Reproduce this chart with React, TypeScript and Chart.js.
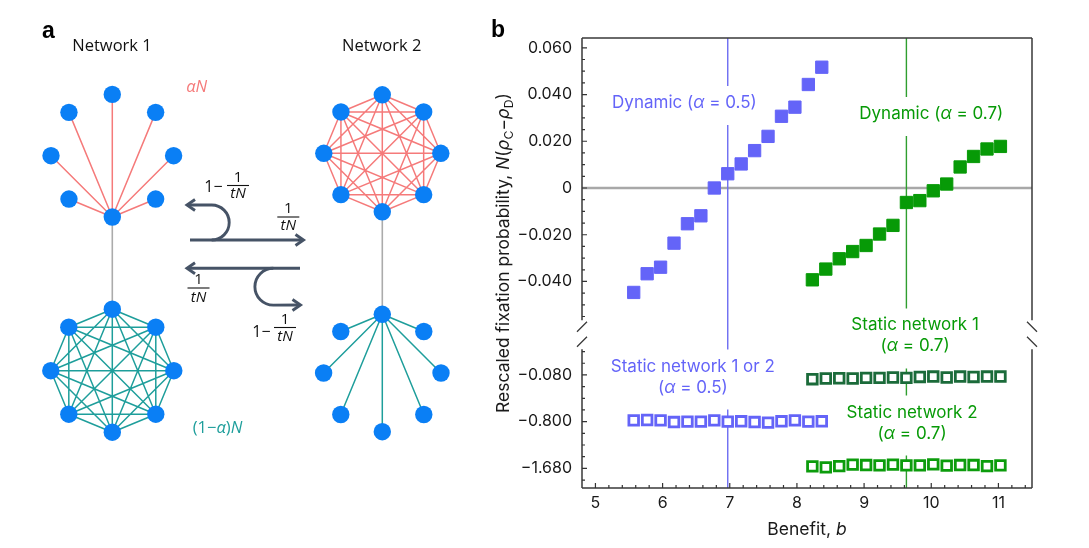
import React, { useEffect, useRef } from 'react';
import { Chart, registerables } from 'chart.js';
Chart.register(...registerables);

// ---------------- Panel b data ----------------
const B_ALPHA05 = [5.57, 5.77, 5.97, 6.17, 6.37, 6.57, 6.77, 6.97, 7.17, 7.37, 7.57, 7.77, 7.97, 8.17, 8.37];
const B_ALPHA07 = [8.23, 8.43, 8.63, 8.83, 9.03, 9.23, 9.43, 9.63, 9.83, 10.03, 10.23, 10.43, 10.63, 10.83, 11.03];
const DYN_05 = [-0.0447, -0.0367, -0.0339, -0.0236, -0.0153, -0.0119, 0.0, 0.0061, 0.0103, 0.016, 0.0221, 0.0307, 0.0346, 0.0443, 0.0517];
const DYN_07 = [-0.0393, -0.0347, -0.0303, -0.0272, -0.0246, -0.0197, -0.016, -0.0062, -0.0054, -0.0012, 0.0017, 0.009, 0.0135, 0.0167, 0.0178];
const STATIC_05 = [-0.78, -0.775, -0.78, -0.808, -0.8, -0.8, -0.78, -0.8, -0.795, -0.808, -0.819, -0.795, -0.78, -0.8, -0.795];
const STATIC1_07 = [-0.146, -0.135, -0.131, -0.135, -0.126, -0.126, -0.12, -0.126, -0.111, -0.105, -0.12, -0.105, -0.111, -0.105, -0.105];
const STATIC2_07 = [-1.642, -1.661, -1.637, -1.61, -1.618, -1.623, -1.61, -1.623, -1.623, -1.604, -1.629, -1.618, -1.618, -1.637, -1.623];
const B_CRIT = [6.97, 9.63];
const X_TICKS = [5, 6, 7, 8, 9, 10, 11];
const Y_TICK_VALUES = [0.06, 0.04, 0.02, 0, -0.02, -0.04, -0.08, -0.8, -1.68];
const Y_TICK_LABELS = ['0.060', '0.040', '0.020', '0', '−0.020', '−0.040', '−0.080', '−0.800', '−1.680'];

// broken axis: upper part linear (0.02 per step), lower part uses the labelled knots
const UPPER_STEP = 0.02;
const LOWER_KNOTS = [-0.08, -0.8, -1.68];
const LOWER_POS = [-4, -5, -6];
function toAxis(v: number): number {
  if (v > -0.06) return v / UPPER_STEP;
  let i = 0;
  if (v < LOWER_KNOTS[1]) i = 1;
  const t = (v - LOWER_KNOTS[i]) / (LOWER_KNOTS[i + 1] - LOWER_KNOTS[i]);
  return LOWER_POS[i] + t * (LOWER_POS[i + 1] - LOWER_POS[i]);
}

// colours
const BLUE = '#6464f8';
const GREEN = '#079a07';
const DARK_GREEN = '#1b6b3a';
const GREEN2 = '#0c9c0c';
const CRIT_COLORS = ['#6d6df2', '#2f9e2f'];
const FONT_B = 'Inter, "Noto Sans", sans-serif';
const FONT_A = '"Open Sans", "Noto Sans", sans-serif';

const ANNOTATIONS = [
  { lines: ['Dynamic (α = 0.5)'], b: 6.325, pos: 1.82, color: BLUE, crit: 0 },
  { lines: ['Dynamic (α = 0.7)'], b: 10.0, pos: 1.585, color: GREEN, crit: 1 },
  { lines: ['Static network 1', '(α = 0.7)'], b: 9.76, pos: -2.94, color: GREEN, crit: 1 },
  { lines: ['Static network 1 or 2', '(α = 0.5)'], b: 6.45, pos: -3.82, color: BLUE, crit: 0 },
  { lines: ['Static network 2', '(α = 0.7)'], b: 9.715, pos: -4.805, color: GREEN, crit: 1 },
];

type Seg = { t: string; it?: boolean; sub?: boolean };

function alphaSegs(s: string): Seg[] {
  const out: Seg[] = [];
  s.split(/(α)/).forEach((p) => {
    if (!p) return;
    out.push({ t: p, it: p === 'α' });
  });
  return out;
}

function drawRich(ctx: CanvasRenderingContext2D, segs: Seg[], x: number, y: number, size: number, family: string, color: string, align: 'center' | 'left' = 'center') {
  const fontOf = (s: Seg) => `${s.it ? 'italic ' : ''}${s.sub ? size * 0.7 : size}px ${family}`;
  let w = 0;
  segs.forEach((s) => { ctx.font = fontOf(s); w += ctx.measureText(s.t).width; });
  let cx = align === 'center' ? x - w / 2 : x;
  ctx.fillStyle = color;
  ctx.textBaseline = 'middle';
  ctx.textAlign = 'left';
  segs.forEach((s) => {
    ctx.font = fontOf(s);
    ctx.fillText(s.t, cx, y + (s.sub ? size * 0.32 : 0));
    cx += ctx.measureText(s.t).width;
  });
}

const LINE_H = 21;
const GAP_ABOVE = 17;
const GAP_BELOW = 22;
const BREAK_TOP = -2.83;
const BREAK_BOTTOM = -3.45;
const BREAK_MARKS = [-2.97, -3.29];

const panelBPlugin = {
  id: 'panelB',
  beforeDatasetsDraw(chart: any) {
    const { ctx, chartArea: ca, scales } = chart;
    const x = scales.x, y = scales.y;
    ctx.save();
    const y0 = y.getPixelForValue(toAxis(0));
    ctx.strokeStyle = '#a8a8a8';
    ctx.lineWidth = 2.5;
    ctx.beginPath(); ctx.moveTo(ca.left, y0); ctx.lineTo(ca.right, y0); ctx.stroke();
    B_CRIT.forEach((b, i) => {
      const px = x.getPixelForValue(b);
      const gaps = ANNOTATIONS.filter((a) => a.crit === i).map((a) => {
        const top = y.getPixelForValue(a.pos);
        return [top - GAP_ABOVE, top + (a.lines.length - 1) * LINE_H + GAP_BELOW];
      }).sort((p, q) => p[0] - q[0]);
      ctx.strokeStyle = CRIT_COLORS[i];
      ctx.lineWidth = 1.4;
      ctx.beginPath();
      let cur = ca.top;
      gaps.forEach(([g0, g1]) => { ctx.moveTo(px, cur); ctx.lineTo(px, g0); cur = g1; });
      ctx.moveTo(px, cur); ctx.lineTo(px, ca.bottom);
      ctx.stroke();
    });
    ctx.restore();
  },
  afterDatasetsDraw(chart: any) {
    const { ctx, chartArea: ca, scales } = chart;
    const x = scales.x, y = scales.y;
    ctx.save();
    const bt = y.getPixelForValue(BREAK_TOP), bb = y.getPixelForValue(BREAK_BOTTOM);
    // frame
    ctx.strokeStyle = '#3a3a3a';
    ctx.lineWidth = 1.5;
    ctx.beginPath();
    ctx.moveTo(ca.left, ca.top); ctx.lineTo(ca.right, ca.top);
    ctx.moveTo(ca.left, ca.bottom); ctx.lineTo(ca.right, ca.bottom);
    [ca.left, ca.right].forEach((px) => {
      ctx.moveTo(px, ca.top); ctx.lineTo(px, bt);
      ctx.moveTo(px, bb); ctx.lineTo(px, ca.bottom);
    });
    ctx.stroke();
    // break marks
    ctx.lineWidth = 1.3;
    ctx.beginPath();
    BREAK_MARKS.forEach((p) => {
      const py = y.getPixelForValue(p);
      ctx.moveTo(ca.left - 5, py + 5); ctx.lineTo(ca.left + 5, py - 5);
      ctx.moveTo(ca.right - 5, py - 5); ctx.lineTo(ca.right + 5, py + 5);
    });
    ctx.stroke();
    // ticks (inward)
    ctx.lineWidth = 1.2;
    ctx.strokeStyle = '#333';
    ctx.beginPath();
    const majorY = Y_TICK_VALUES.map(toAxis);
    majorY.forEach((p) => { const py = y.getPixelForValue(p); ctx.moveTo(ca.left, py); ctx.lineTo(ca.left + 5, py); });
    for (let k = -26; k <= 13; k++) {
      const p = k * 0.25;
      if (p >= y.max || p <= y.min) continue;
      if (p > BREAK_BOTTOM && p < BREAK_TOP) continue;
      if (majorY.some((m) => Math.abs(m - p) < 1e-6)) continue;
      const py = y.getPixelForValue(p);
      ctx.moveTo(ca.left, py); ctx.lineTo(ca.left + 3, py);
    }
    X_TICKS.forEach((v) => { const px = x.getPixelForValue(v); ctx.moveTo(px, ca.bottom); ctx.lineTo(px, ca.bottom - 5); });
    for (let k = 25; k <= 57; k++) {
      const v = k * 0.2;
      if (v <= x.min + 1e-6 || v >= x.max) continue;
      if (X_TICKS.some((m) => Math.abs(m - v) < 1e-6)) continue;
      const px = x.getPixelForValue(v);
      ctx.moveTo(px, ca.bottom); ctx.lineTo(px, ca.bottom - 3);
    }
    ctx.stroke();
    // annotations
    ANNOTATIONS.forEach((a) => {
      const px = x.getPixelForValue(a.b);
      const py = y.getPixelForValue(a.pos);
      a.lines.forEach((ln, i) => drawRich(ctx, alphaSegs(ln), px, py + i * LINE_H, 17, FONT_B, a.color));
    });
    ctx.restore();
  },
  afterDraw(chart: any) {
    const { ctx, chartArea: ca } = chart;
    ctx.save();
    // panel letter
    ctx.fillStyle = '#000';
    ctx.font = `bold 23px "Liberation Sans", Arial, sans-serif`;
    ctx.textAlign = 'left';
    ctx.textBaseline = 'alphabetic';
    ctx.fillText('b', 11, 37);
    // x title
    drawRich(ctx, [{ t: 'Benefit, ' }, { t: 'b', it: true }], (ca.left + ca.right) / 2, 530, 17.5, FONT_B, '#1a1a1a');
    // y title
    ctx.translate(24, 253);
    ctx.rotate(-Math.PI / 2);
    drawRich(ctx, [
      { t: 'Rescaled fixation probability, ' }, { t: 'N', it: true }, { t: '(' },
      { t: 'ρ', it: true }, { t: 'C', sub: true }, { t: '−' },
      { t: 'ρ', it: true }, { t: 'D', sub: true }, { t: ')' },
    ], 0, 0, 17.5, FONT_B, '#1a1a1a');
    ctx.restore();
  },
};

function squares(label: string, xs: number[], ys: number[], color: string, filled: boolean, order: number) {
  return {
    label,
    data: xs.map((b, i) => ({ x: b, y: toAxis(ys[i]) })),
    pointStyle: 'rect',
    pointRadius: filled ? 8.7 : 6.8,
    pointHoverRadius: filled ? 8.7 : 6.8,
    pointBackgroundColor: filled ? color : '#ffffff',
    pointBorderColor: color,
    pointBorderWidth: filled ? 1 : 2.8,
    showLine: false,
    order,
  };
}

// ---------------- Panel a layout ----------------
const NET_N1_TOP = { cx: 112.3, cy: 155.7, r: 61.3 };
const NET_N1_BOT = { cx: 112.3, cy: 370.7, r: 61.5 };
const NET_N2_TOP = { cx: 382.3, cy: 153.3, r: 58.5 };
const NET_N2_BOT = { cx: 382.3, cy: 373.0, r: 58.7 };
const NODE_COLOR = '#0a7ff5';
const RED_EDGE = '#f57a7a';
const TEAL_EDGE = '#1e9e9b';
const ARROW = '#465366';

function octagon(g: { cx: number; cy: number; r: number }) {
  return Array.from({ length: 8 }, (_, k) => {
    const a = ((-90 + 45 * k) * Math.PI) / 180;
    return { x: g.cx + g.r * Math.cos(a), y: g.cy + g.r * Math.sin(a) };
  });
}
const GAP = { x: NaN, y: NaN };
function completeEdges(p: { x: number; y: number }[]) {
  const out: any[] = [];
  for (let i = 0; i < p.length; i++) for (let j = i + 1; j < p.length; j++) out.push(p[i], p[j], GAP);
  return out;
}
function starEdges(p: { x: number; y: number }[], hub: number) {
  const out: any[] = [];
  p.forEach((q, i) => { if (i !== hub) out.push(p[hub], q, GAP); });
  return out;
}

function arrowHead(ctx: CanvasRenderingContext2D, tx: number, ty: number, dir: number) {
  ctx.beginPath();
  ctx.moveTo(tx - dir * 8, ty - 5.5);
  ctx.lineTo(tx, ty);
  ctx.lineTo(tx - dir * 8, ty + 5.5);
  ctx.stroke();
}

function fraction(ctx: CanvasRenderingContext2D, cx: number, yNum: number, yBar: number, yDen: number, hw: number) {
  drawRich(ctx, [{ t: '1' }], cx, yNum, 15, FONT_A, '#111');
  ctx.strokeStyle = '#111';
  ctx.lineWidth = 1.1;
  ctx.beginPath(); ctx.moveTo(cx - hw, yBar); ctx.lineTo(cx + hw, yBar); ctx.stroke();
  drawRich(ctx, [{ t: 'tN', it: true }], cx, yDen, 15, FONT_A, '#111');
}

const panelAPlugin = {
  id: 'panelA',
  afterDatasetsDraw(chart: any) {
    const { ctx } = chart;
    ctx.save();
    ctx.fillStyle = '#000';
    ctx.font = `bold 23px "Liberation Sans", Arial, sans-serif`;
    ctx.textAlign = 'left';
    ctx.textBaseline = 'alphabetic';
    ctx.fillText('a', 42, 38);
    drawRich(ctx, [{ t: 'Network 1' }], 112, 46, 16.5, FONT_A, '#111');
    drawRich(ctx, [{ t: 'Network 2' }], 381.7, 46, 16.5, FONT_A, '#111');
    drawRich(ctx, [{ t: 'αN', it: true }], 196.7, 87.5, 16.5, FONT_A, RED_EDGE);
    drawRich(ctx, [{ t: '(1−' }, { t: 'α', it: true }, { t: ')' }, { t: 'N', it: true }], 217.5, 428, 16.5, FONT_A, TEAL_EDGE);

    // arrows
    ctx.strokeStyle = ARROW;
    ctx.lineWidth = 2.9;
    ctx.lineCap = 'butt';
    ctx.lineJoin = 'miter';
    // top: straight to the right
    ctx.beginPath(); ctx.moveTo(190, 240); ctx.lineTo(302, 240); ctx.stroke();
    arrowHead(ctx, 303.5, 240, 1);
    // top: U-turn back to the left
    ctx.beginPath();
    ctx.moveTo(211.7, 240);
    ctx.arc(211.7, 222.5, 17.5, Math.PI / 2, -Math.PI / 2, true);
    ctx.lineTo(188, 205);
    ctx.stroke();
    arrowHead(ctx, 187, 205, -1);
    // bottom: straight to the left
    ctx.beginPath(); ctx.moveTo(300, 268.3); ctx.lineTo(188, 268.3); ctx.stroke();
    arrowHead(ctx, 187, 268.3, -1);
    // bottom: U-turn to the right
    ctx.beginPath();
    ctx.moveTo(273.3, 268.3);
    ctx.arc(273.3, 286.7, 18.4, -Math.PI / 2, Math.PI / 2, true);
    ctx.lineTo(299, 305);
    ctx.stroke();
    arrowHead(ctx, 300.5, 305, 1);

    // labels
    drawRich(ctx, [{ t: '1−' }], 213.5, 187.5, 16, FONT_A, '#111');
    fraction(ctx, 238, 178, 185.5, 194, 11);
    fraction(ctx, 288.3, 208.5, 217, 225.5, 11);
    fraction(ctx, 198.5, 280, 288, 297.5, 11);
    drawRich(ctx, [{ t: '1−' }], 261.5, 332, 16, FONT_A, '#111');
    fraction(ctx, 285, 320, 327.5, 337, 11);
    ctx.restore();
  },
};

export default function App() {
  const aRef = useRef<HTMLCanvasElement>(null);
  const bRef = useRef<HTMLCanvasElement>(null);

  useEffect(() => {
    const n1t = octagon(NET_N1_TOP);
    const n1b = octagon(NET_N1_BOT);
    const n2t = octagon(NET_N2_TOP);
    const n2b = octagon(NET_N2_BOT);
    const edgeDs = (label: string, data: any[], color: string, width: number) => ({
      label, data, showLine: true, spanGaps: false, borderColor: color, borderWidth: width,
      pointRadius: 0, pointHoverRadius: 0, order: 5,
    });
    const chartA = new Chart(aRef.current!, {
      type: 'scatter',
      data: {
        datasets: [
          {
            label: 'nodes',
            data: [...n1t, ...n1b, ...n2t, ...n2b],
            pointRadius: 8.7, pointHoverRadius: 8.7,
            pointBackgroundColor: NODE_COLOR, pointBorderWidth: 0, order: 0,
          } as any,
          edgeDs('n1 star', starEdges(n1t, 4), RED_EDGE, 1.5),
          edgeDs('n1 complete', completeEdges(n1b), TEAL_EDGE, 1.5),
          edgeDs('n2 complete', completeEdges(n2t), RED_EDGE, 1.5),
          edgeDs('n2 star', starEdges(n2b, 0), TEAL_EDGE, 1.5),
          edgeDs('links', [n1t[4], n1b[0], GAP, n2t[4], n2b[0]], '#ababab', 1.6),
        ],
      },
      options: {
        responsive: false,
        animation: false,
        events: [],
        layout: { padding: 0, autoPadding: false },
        plugins: { legend: { display: false }, tooltip: { enabled: false } },
        scales: {
          x: { type: 'linear', min: 0, max: 480, display: false },
          y: { type: 'linear', min: 0, max: 548, reverse: true, display: false },
        },
      },
      plugins: [panelAPlugin],
    } as any);

    const chartB = new Chart(bRef.current!, {
      type: 'scatter',
      data: {
        datasets: [
          squares('Dynamic (α = 0.5)', B_ALPHA05, DYN_05, BLUE, true, 1),
          squares('Dynamic (α = 0.7)', B_ALPHA07, DYN_07, GREEN, true, 1),
          squares('Static network 1 or 2 (α = 0.5)', B_ALPHA05, STATIC_05, BLUE, false, 1),
          squares('Static network 1 (α = 0.7)', B_ALPHA07, STATIC1_07, DARK_GREEN, false, 1),
          squares('Static network 2 (α = 0.7)', B_ALPHA07, STATIC2_07, GREEN2, false, 1),
        ] as any,
      },
      options: {
        responsive: false,
        animation: false,
        events: [],
        layout: { padding: { left: 0, right: 57, top: 38, bottom: 0 } },
        plugins: { legend: { display: false }, tooltip: { enabled: false } },
        scales: {
          x: {
            type: 'linear', min: 4.8, max: 11.5,
            afterBuildTicks: (s: any) => { s.ticks = X_TICKS.map((v) => ({ value: v })); },
            afterFit: (s: any) => { s.height = 60; },
            grid: { display: false, drawTicks: false },
            border: { display: false },
            ticks: { autoSkip: false, maxRotation: 0, padding: 6, font: { family: FONT_B, size: 16 }, color: '#1a1a1a', callback: (v: any) => String(v) },
          },
          y: {
            type: 'linear', min: -6.42, max: 3.21,
            afterBuildTicks: (s: any) => { s.ticks = Y_TICK_VALUES.map((v) => ({ value: toAxis(v) })); },
            afterFit: (s: any) => { s.width = 102; },
            grid: { display: false, drawTicks: false },
            border: { display: false },
            ticks: {
              autoSkip: false, padding: 10, font: { family: FONT_B, size: 16 }, color: '#1a1a1a',
              callback: (v: any) => {
                const i = Y_TICK_VALUES.findIndex((t) => Math.abs(toAxis(t) - v) < 1e-6);
                return i >= 0 ? Y_TICK_LABELS[i] : '';
              },
            },
          },
        },
      },
      plugins: [panelBPlugin],
    } as any);

    return () => { chartA.destroy(); chartB.destroy(); };
  }, []);

  return (
    <div style={{ position: 'fixed', left: 0, top: 0, width: 1089, height: 548, background: '#ffffff' }}>
      <canvas ref={aRef} width={480} height={548} style={{ position: 'absolute', left: 0, top: 0, width: 480, height: 548 }} />
      <canvas ref={bRef} width={609} height={548} style={{ position: 'absolute', left: 480, top: 0, width: 609, height: 548 }} />
    </div>
  );
}
